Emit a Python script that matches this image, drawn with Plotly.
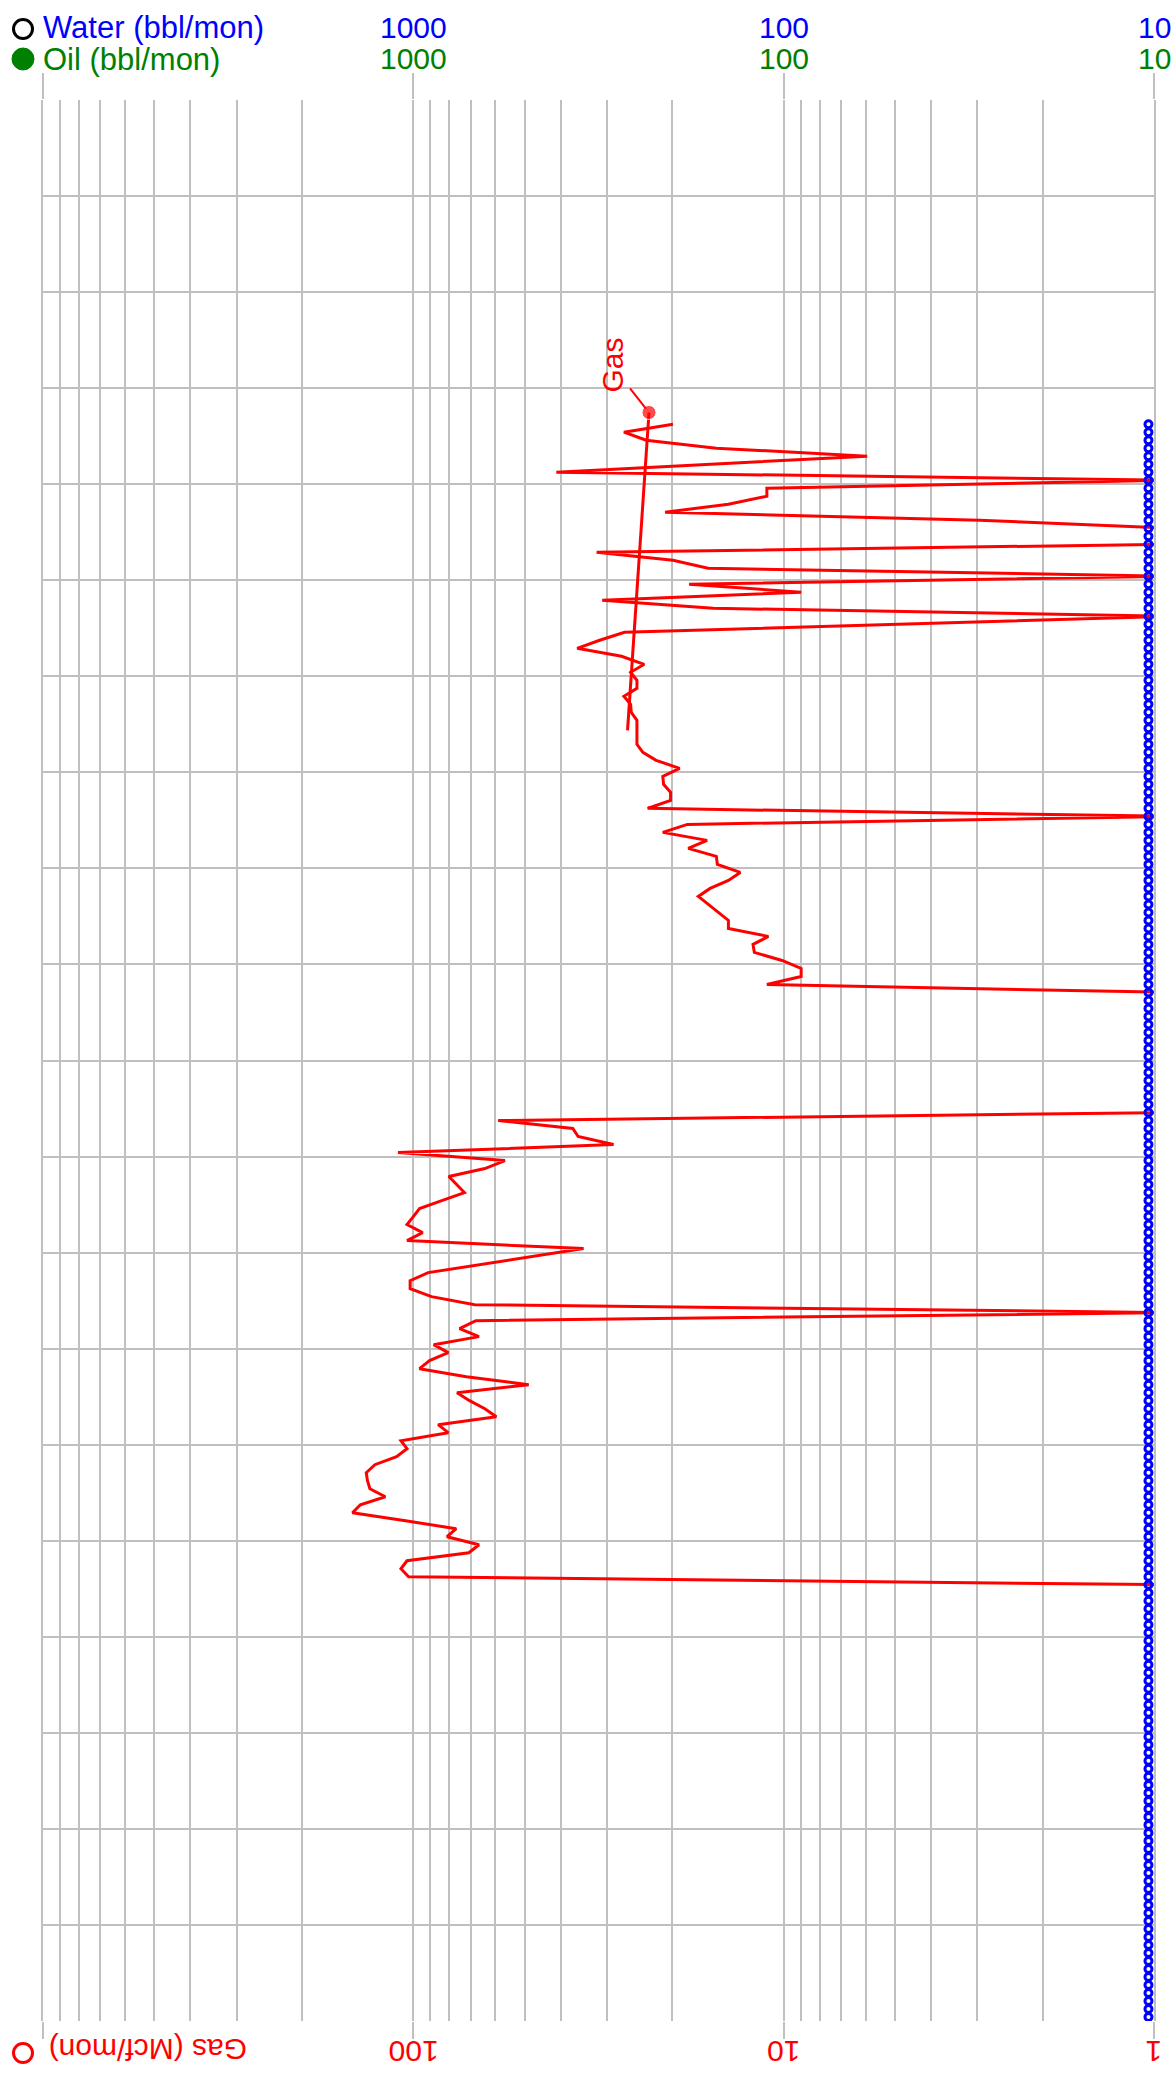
import math

import plotly.graph_objects as go

RED, BLUE, GREEN, GRID = "#ff0000", "#0000ff", "#008000", "#c0c0c0"
FONT = "Liberation Sans, Arial, sans-serif"

# ── Data (time runs downward, 12 months per grid row, 20 rows) ────────────────
first_month = 40  # first producing month, counted from the top grid line

# Gas, Mcf/mon (zero months = 0.9, i.e. just off the left-to-right floor and clipped)
gas = [
    19.9, 27.0, 23.5, 15.2, 5.95, 15.6, 41.1, 0.9, 11.1, 11.1,
    14.1, 20.9, 2.96, 0.9, 0.9, 0.9, 32.0, 19.9, 16.0, 0.9,
    18.0, 8.97, 30.9, 15.5, 0.9, 4.6, 26.9, 31.4, 36.1, 27.4,
    23.8, 25.9, 24.9, 24.9, 27.0, 25.9, 25.8, 24.9, 24.9, 24.9,
    24.9, 24.0, 22.1, 19.1, 21.2, 21.1, 20.2, 20.2, 23.3, 0.9,
    18.2, 21.2, 16.1, 18.1, 15.2, 15.1, 13.1, 14.1, 15.8, 17.0,
    16.0, 15.0, 14.1, 14.1, 11.0, 12.1, 12.0, 10.1, 8.97, 8.97,
    11.1, 0.9, 0.9, 0.9, 0.9, 0.9, 0.9, 0.9, 0.9, 0.9,
    0.9, 0.9, 0.9, 0.9, 0.9, 0.9, 0.9, 59.0, 37.1, 35.9,
    28.8, 110, 56.6, 64.1, 80.2, 76.4, 72.8, 83.8, 96.2, 100,
    104, 94.4, 104, 34.7, 47.9, 66.2, 91.2, 102, 102, 89.3,
    68.3, 0.9, 67.8, 75.0, 66.5, 88.1, 80.5, 90.4, 96.2, 71.9,
    48.8, 76.2, 70.5, 64.1, 59.7, 85.7, 80.5, 108, 104, 111,
    127, 134, 133, 131, 119, 139, 146, 105, 76.6, 81.1,
    66.5, 70.8, 104, 108, 103, 0.9,
]
gas_months = [m + 0.5 for m in range(first_month, first_month + len(gas))]

# Water, bbl/mon: no water reported, every month pinned at the floor
water_n = 200
water = [10.35] * water_n
water_months = [m + 0.5 for m in range(first_month, first_month + water_n)]

# Straight gas trend segment with the labelled dot at its start
trend_months = [39.04, 78.75]
trend_gas = [23.1, 26.4]

# Tick labels
top_ticks = [1000, 100, 10]       # water and oil (bbl/mon)
gas_ticks = [100, 10, 1]          # gas (Mcf/mon)
minor_vals = [d * 10 ** e for e in range(0, 4) for d in range(2, 10)]

# ── Figure ────────────────────────────────────────────────────────────────────
W, H = 1174, 2076
L, R, T, B = 43, 20, 100, 55


def pxx(px):
    return (px - L) / (W - L - R)


def pyy(py):
    return (H - B - py) / (H - T - B)


fig = go.Figure()
fig.add_scatter(x=gas, y=gas_months, mode="lines", line=dict(color=RED, width=3),
                showlegend=False, hoverinfo="skip")
fig.add_scatter(x=trend_gas, y=trend_months, mode="lines+markers",
                line=dict(color=RED, width=3), marker=dict(color=RED, size=[14, 0]),
                showlegend=False, hoverinfo="skip")
fig.add_scatter(x=water, y=water_months, xaxis="x2", mode="markers",
                marker=dict(symbol="circle-open", color=BLUE, size=7, line=dict(width=3)),
                showlegend=False, hoverinfo="skip")

fig.update_layout(
    width=W, height=H, margin=dict(l=L, r=R, t=T, b=B, autoexpand=False),
    paper_bgcolor="white", plot_bgcolor="white", showlegend=False,
    font=dict(family=FONT, size=30),
    xaxis=dict(type="log", range=[3, 0], tickvals=[1, 10, 100, 1000],
               showticklabels=False, ticks="outside", ticklen=17, tickwidth=2,
               tickcolor=GRID, showgrid=True, gridcolor=GRID, gridwidth=2,
               minor=dict(tickvals=minor_vals, showgrid=True, gridcolor=GRID,
                          gridwidth=2, ticks=""),
               zeroline=False, showline=False, automargin=False),
    xaxis2=dict(type="log", range=[4, 1], overlaying="x", side="top",
                tickvals=[10, 100, 1000, 10000], showticklabels=False,
                ticks="outside", ticklen=26, tickwidth=2, tickcolor=GRID,
                showgrid=False, zeroline=False, showline=False, automargin=False),
    yaxis=dict(range=[240, 0], tickvals=list(range(0, 241, 12)),
               showticklabels=False, ticks="", showgrid=True, gridcolor=GRID,
               gridwidth=2, zeroline=False, showline=True, linecolor=GRID,
               linewidth=2, mirror=True, automargin=False),
)

ann = []
for v in top_ticks:
    ann.append(dict(text=str(v), x=math.log10(v), xref="x2", y=pyy(28), yref="paper",
                    xanchor="center", yanchor="middle", showarrow=False,
                    font=dict(color=BLUE)))
    ann.append(dict(text=str(v), x=math.log10(v), xref="x2", y=pyy(58), yref="paper",
                    xanchor="center", yanchor="middle", showarrow=False,
                    font=dict(color=GREEN)))
for v in gas_ticks:
    ann.append(dict(text=str(v), x=math.log10(v), xref="x", y=pyy(2052), yref="paper",
                    xanchor="center", yanchor="middle", showarrow=False,
                    textangle=180, font=dict(color=RED)))
ann += [
    dict(text="Water (bbl/mon)", x=pxx(41), y=pyy(28), xref="paper", yref="paper",
         xanchor="left", yanchor="middle", showarrow=False,
         font=dict(color=BLUE, size=31)),
    dict(text="Oil (bbl/mon)", x=pxx(41), y=pyy(59), xref="paper", yref="paper",
         xanchor="left", yanchor="middle", showarrow=False,
         font=dict(color=GREEN, size=31)),
    dict(text="Gas (Mcf/mon)", x=pxx(148), y=pyy(2050), xref="paper", yref="paper",
         xanchor="center", yanchor="middle", showarrow=False, textangle=180,
         font=dict(color=RED)),
    dict(text="Gas", x=math.log10(trend_gas[0]), y=trend_months[0], xref="x", yref="y",
         textangle=-90, font=dict(color=RED), showarrow=True, arrowhead=0,
         arrowwidth=2, arrowcolor=RED, ax=-37, ay=-47, standoff=5),
]
fig.update_layout(annotations=ann)


def ring(cx, cy, d, **kw):
    return dict(type="circle", xref="paper", yref="paper", xsizemode="pixel",
                ysizemode="pixel", xanchor=pxx(cx), yanchor=pyy(cy),
                x0=-d / 2, x1=d / 2, y0=-d / 2, y1=d / 2, **kw)


fig.update_layout(shapes=[
    ring(23, 29, 19, line=dict(color="black", width=3)),
    ring(23, 59, 22, line=dict(color=GREEN, width=1), fillcolor=GREEN),
    ring(23, 2053, 19, line=dict(color=RED, width=3)),
])

fig.write_html("out.html", config={"displayModeBar": False},
               post_script="document.body.style.margin='0';")
